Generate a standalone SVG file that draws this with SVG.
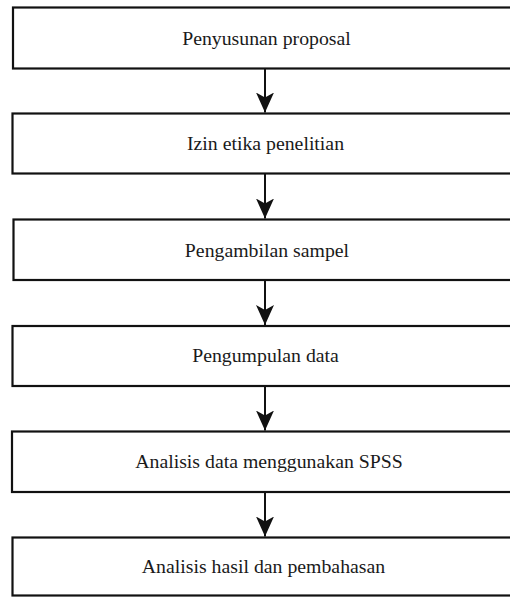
<svg xmlns="http://www.w3.org/2000/svg" width="510" height="597" viewBox="0 0 510 597">
  <style>
    .box { fill: #ffffff; stroke: #111111; stroke-width: 2.2; }
    .lbl { font-size: 19.8px; fill: #1a1a1a; text-anchor: middle; }
    .conn { stroke: #111111; stroke-width: 2; fill: none; }
  </style>
  <defs>
    <marker id="arrow" markerUnits="userSpaceOnUse" markerWidth="20" markerHeight="18" refX="20" refY="9" orient="auto">
      <path d="M0,0 L20,9 L0,18 L5,9 Z" fill="#111111"/>
    </marker>
  </defs>
  <rect width="510" height="597" fill="#ffffff"/>

  <g id="nodes" font-family="Liberation Serif, Times New Roman, Times, serif">
  <g id="node1">
    <rect class="box" x="13" y="7.5" width="520" height="61"/>
    <text class="lbl" x="266.5" y="45">Penyusunan proposal</text>
  </g>
  <g id="node2">
    <rect class="box" x="12.5" y="113.5" width="520" height="60"/>
    <text class="lbl" x="265.5" y="150">Izin etika penelitian</text>
  </g>
  <g id="node3">
    <rect class="box" x="13.5" y="219.5" width="520" height="60.5"/>
    <text class="lbl" x="267" y="257">Pengambilan sampel</text>
  </g>
  <g id="node4">
    <rect class="box" x="12.5" y="326" width="520" height="60"/>
    <text class="lbl" x="265.5" y="362">Pengumpulan data</text>
  </g>
  <g id="node5">
    <rect class="box" x="12" y="431.5" width="520" height="60.5"/>
    <text class="lbl" x="269" y="468">Analisis data menggunakan SPSS</text>
  </g>
  <g id="node6">
    <rect class="box" x="12.5" y="537.5" width="520" height="58"/>
    <text class="lbl" x="263.5" y="573">Analisis hasil dan pembahasan</text>
  </g>
  </g>

  <g id="connectors">
    <line class="conn" x1="265" y1="69" x2="265" y2="112.5" marker-end="url(#arrow)"/>
    <line class="conn" x1="265" y1="174" x2="265" y2="218.5" marker-end="url(#arrow)"/>
    <line class="conn" x1="265" y1="281" x2="265" y2="325" marker-end="url(#arrow)"/>
    <line class="conn" x1="265" y1="387" x2="265" y2="430.5" marker-end="url(#arrow)"/>
    <line class="conn" x1="265" y1="493" x2="265" y2="536.5" marker-end="url(#arrow)"/>
  </g>
</svg>
